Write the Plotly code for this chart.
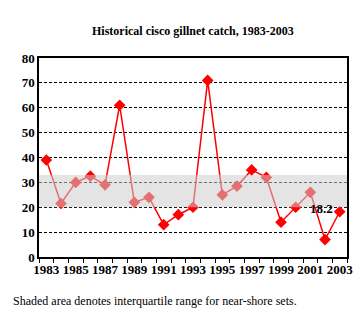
import plotly.graph_objects as go

years = list(range(1983, 2004))
catch = [39, 21.5, 30, 32.5, 29, 61, 22, 24, 13, 17, 20, 71, 25, 28.5, 35, 32, 14, 20, 26, 7, 18.2]
iqr_low, iqr_high = 20, 33
year_labels = [str(y) for y in range(1983, 2004, 2)]
y_ticks = [0, 10, 20, 30, 40, 50, 60, 70, 80]

plot_l, plot_r, plot_t, plot_b = 39, 353, 58, 257
W, H = 362, 331

fig = go.Figure()
fig.add_trace(go.Scatter(
    x=years, y=catch, mode="lines+markers",
    line=dict(color="#ff0000", width=1.5),
    marker=dict(symbol="diamond", size=9, color="#ff0000"),
    hoverinfo="x+y", showlegend=False,
))

# shaded interquartile band drawn on top (as in reference)
fig.add_shape(type="rect", xref="paper", yref="y", x0=0, x1=1, y0=iqr_low, y1=iqr_high,
              fillcolor="rgba(205,205,205,0.55)", line=dict(width=0), layer="above")

fig.add_annotation(x=years[-1], y=catch[-1], text=f"<b>{catch[-1]}</b>", showarrow=False,
                   xanchor="right", yanchor="middle", xshift=-5, yshift=3,
                   font=dict(family="Liberation Serif", size=13, color="black"))

fig.add_annotation(x=0.5, y=1, xref="paper", yref="paper", text="<b>Historical cisco gillnet catch, 1983-2003</b>",
                   showarrow=False, xanchor="center", yanchor="bottom", yshift=18,
                   font=dict(family="Liberation Serif", size=12, color="black"))

fig.add_annotation(x=(10 - plot_l) / (plot_r - plot_l), y=(plot_b - 301) / (plot_b - plot_t),
                   xref="paper", yref="paper",
                   text="Shaded area denotes interquartile range for near-shore sets.",
                   showarrow=False, xanchor="left", yanchor="middle",
                   font=dict(family="Liberation Serif", size=12, color="black"))

fig.update_xaxes(
    range=[1982.5, 2003.5],
    tickmode="array", tickvals=[int(s) for s in year_labels], ticktext=year_labels,
    ticks="", showgrid=False, zeroline=False,
    showline=True, linecolor="black", linewidth=1.5, mirror=True,
    tickfont=dict(family="Liberation Serif", size=13, color="black", weight="bold"),
    minor=dict(tick0=1982.5, dtick=1, ticks="outside", ticklen=4, tickcolor="black", tickwidth=1, showgrid=False),
)
fig.update_yaxes(
    range=[0, 80], tickmode="array", tickvals=y_ticks,
    ticks="", showgrid=True, gridcolor="black", griddash="3px,2px", gridwidth=1, zeroline=False,
    showline=True, linecolor="black", linewidth=1.5, mirror=True,
    tickfont=dict(family="Liberation Serif", size=13, color="black", weight="bold"),
)
fig.update_layout(
    width=W, height=H, margin=dict(l=plot_l, r=W - plot_r, t=plot_t, b=H - plot_b),
    paper_bgcolor="white", plot_bgcolor="white",
)
fig.write_html("out.html")
